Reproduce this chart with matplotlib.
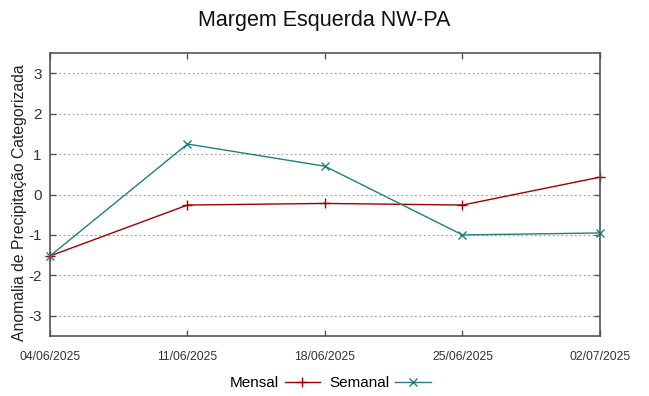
import matplotlib
matplotlib.use("Agg")
import matplotlib.pyplot as plt

dates = ["04/06/2025", "11/06/2025", "18/06/2025", "25/06/2025", "02/07/2025"]
mensal = [-1.52, -0.26, -0.22, -0.26, 0.43]
semanal = [-1.52, 1.25, 0.70, -1.00, -0.95]
yticks = [-3, -2, -1, 0, 1, 2, 3]

plt.rcParams['font.family'] = ['Liberation Sans', 'DejaVu Sans']

fig = plt.figure(figsize=(6.49, 3.96), dpi=100)
ax = fig.add_axes([0.077, 0.1515, 0.8475, 0.7145])

x = list(range(len(dates)))
ax.plot(x, mensal, color='#a00000', lw=1.0, marker='+', ms=7, mew=1.0, label='Mensal', clip_on=False)
ax.plot(x, semanal, color='#208080', lw=1.0, marker='x', ms=6, mew=1.0, label='Semanal', clip_on=False)

ax.set_xlim(0, len(dates) - 1)
ax.set_ylim(-3.5, 3.5)
ax.set_xticks(x)
ax.set_xticklabels(dates, fontsize=8.8, color='#333333')
ax.set_yticks(yticks)
ax.set_yticklabels([str(v) for v in yticks], fontsize=11, color='#333333')
ax.tick_params(direction='in', top=True, right=True, length=4, width=1, color='#555555')
ax.tick_params(axis='x', pad=11)
ax.tick_params(axis='y', pad=6)
ax.yaxis.grid(True, linestyle=(0, (1.5, 2.5)), color='#999999', lw=0.8)
for s in ax.spines.values():
    s.set_color('#555555')
    s.set_linewidth(1.2)

ax.set_ylabel('Anomalia de Precipitação Categorizada', fontsize=11.3, color='#222222', labelpad=1)
ax.yaxis.set_label_coords(-0.041, 0.47)
fig.suptitle('Margem Esquerda NW-PA', fontsize=15.5, y=0.975, color='#111111')

leg = ax.legend(loc='center', bbox_to_anchor=(0.51, -0.167), ncol=2, frameon=False,
                markerfirst=False, fontsize=11, handlelength=2.35, columnspacing=0.6,
                handletextpad=0.35)

fig.savefig('out.png', dpi=100)
